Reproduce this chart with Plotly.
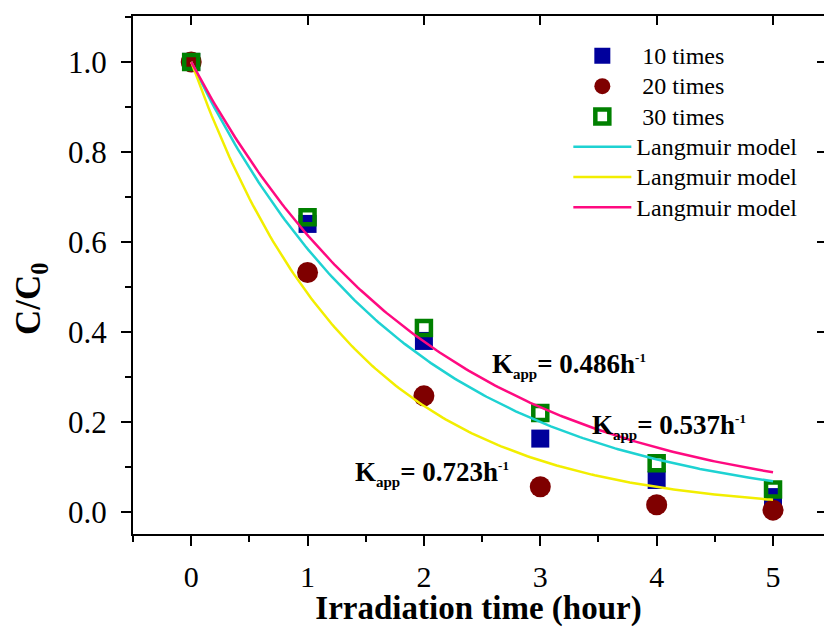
import numpy as np
import plotly.graph_objects as go

# Measured relative concentration C/C0 after each hour of irradiation
time_h = [0, 1, 2, 3, 4, 5]
c_10_times = [1.0, 0.64, 0.38, 0.163, 0.071, 0.033]
c_20_times = [1.0, 0.532, 0.258, 0.056, 0.016, 0.004]
c_30_times = [1.0, 0.655, 0.409, 0.22, 0.108, 0.05]

# Apparent first-order rate constants (h^-1) of the fitted Langmuir model
k_10_times = 0.537
k_20_times = 0.723
k_30_times = 0.486

# Label anchors (hour, C/C0) for the rate-constant annotations
label_pos_30 = (2.57, 0.325)
label_pos_10 = (3.43, 0.19)
label_pos_20 = (1.39, 0.085)

FONT = "Liberation Serif"
LEGEND_TEXT_PX = 24


def legend_label(text):
    return f"<span style='font-size:{LEGEND_TEXT_PX}px'>{text}</span>"


t_fit = np.linspace(0, 5, 200)

fig = go.Figure()

fig.add_trace(go.Scatter(
    x=time_h, y=c_10_times, mode="markers", name=legend_label("\u00a010 times"),
    marker=dict(symbol="square", size=18, color="#00009C", line=dict(width=0)),
))
fig.add_trace(go.Scatter(
    x=time_h, y=c_20_times, mode="markers", name=legend_label("\u00a020 times"),
    marker=dict(symbol="circle", size=21, color="#7F0000", line=dict(width=0)),
))
fig.add_trace(go.Scatter(
    x=time_h, y=c_30_times, mode="markers", name=legend_label("\u00a030 times"),
    marker=dict(symbol="square-open", size=14, color="#008000",
                line=dict(width=4.5, color="#008000")),
))

for k, colour in [(k_10_times, "#1ED2D2"), (k_20_times, "#F2EE00"), (k_30_times, "#FF0A80")]:
    fig.add_trace(go.Scatter(
        x=t_fit, y=np.exp(-k * t_fit), mode="lines", name=legend_label("Langmuir model"),
        line=dict(color=colour, width=2.5),
    ))

# invisible trace that carries the mirrored top/right axes
fig.add_trace(go.Scatter(x=[0], y=[0], xaxis="x2", yaxis="y2", mode="markers",
                         marker=dict(opacity=0), showlegend=False, hoverinfo="skip"))

x_range = [-0.5, 5.438]
y_range = [-0.049, 1.102]

fig.update_layout(
    width=824, height=627,
    margin=dict(l=133, r=0, t=16, b=93),
    paper_bgcolor="white", plot_bgcolor="white",
    font=dict(family=FONT, color="black"),
    showlegend=True,
    legend=dict(
        x=0.63, y=0.962, xanchor="left", yanchor="top",
        bgcolor="rgba(0,0,0,0)", borderwidth=0,
        font=dict(family=FONT, size=21, color="black"),
        itemwidth=58, tracegroupgap=0,
    ),
    xaxis=dict(
        range=x_range, showgrid=False, zeroline=False,
        showline=True, linewidth=2, linecolor="black",
        tickmode="linear", tick0=0, dtick=1,
        ticks="outside", ticklen=10, tickwidth=2, tickcolor="black",
        minor=dict(ticks="outside", dtick=0.5, tick0=0, ticklen=6, tickwidth=2, tickcolor="black"),
        tickfont=dict(family=FONT, size=30, color="black"),
        ticklabelstandoff=5,
        title=dict(text="Irradiation time (hour)", standoff=10,
                   font=dict(family=FONT, size=33, color="black", weight="bold")),
    ),
    yaxis=dict(
        range=y_range, showgrid=False, zeroline=False,
        showline=True, linewidth=2, linecolor="black",
        tickmode="linear", tick0=0, dtick=0.2, tickformat=".1f",
        ticks="outside", ticklen=10, tickwidth=2, tickcolor="black",
        minor=dict(ticks="outside", dtick=0.1, tick0=0, ticklen=6, tickwidth=2, tickcolor="black"),
        tickfont=dict(family=FONT, size=31, color="black"),
        ticklabelstandoff=8,
    ),
    xaxis2=dict(
        range=x_range, overlaying="x", side="top", anchor="y",
        showgrid=False, zeroline=False,
        showline=True, linewidth=2, linecolor="black",
        tickmode="linear", tick0=0, dtick=1,
        ticks="inside", ticklen=9, tickwidth=2, tickcolor="black",
        showticklabels=False,
    ),
    yaxis2=dict(
        range=y_range, overlaying="y", side="right", anchor="x",
        showgrid=False, zeroline=False, showline=False,
        tickmode="linear", tick0=0, dtick=0.2,
        ticks="inside", ticklen=7, tickwidth=2, tickcolor="black",
        showticklabels=False,
    ),
)

# y-axis title as a rotated annotation
fig.add_annotation(
    text="C/C<sub>0</sub>", xref="paper", yref="paper",
    x=-0.148, y=0.455, xanchor="center", yanchor="middle",
    textangle=-90, showarrow=False,
    font=dict(family=FONT, size=35, color="black", weight="bold"),
)

for (px, py), k in [(label_pos_30, k_30_times), (label_pos_10, k_10_times), (label_pos_20, k_20_times)]:
    fig.add_annotation(
        text=(f"K<sub><span style='font-size:15px'>app</span></sub>= {k:.3f}h"
              f"<sup><span style='font-size:13px'>-1</span></sup>"),
        x=px, y=py, xref="x", yref="y", xanchor="left", yanchor="middle",
        showarrow=False,
        font=dict(family=FONT, size=27, color="black", weight="bold"),
    )

fig.write_html("out.html")
